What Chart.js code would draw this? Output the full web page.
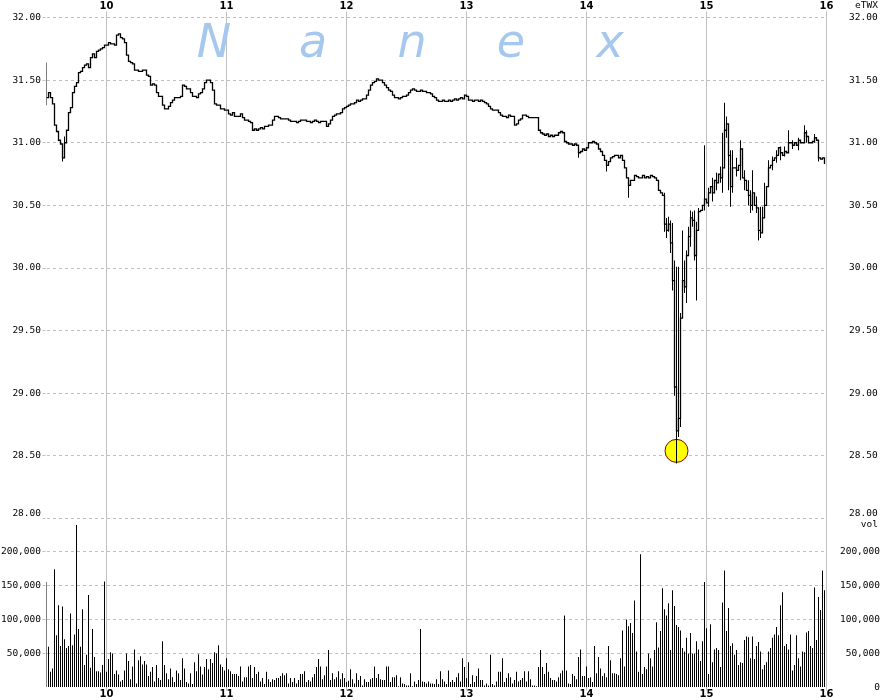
<!DOCTYPE html>
<html>
<head>
<meta charset="utf-8">
<script src="https://cdn.jsdelivr.net/npm/chart.js@4.4.1/dist/chart.umd.min.js"></script>
<style>
  html, body { margin: 0; padding: 0; background: #fff; }
  #wrap { position: relative; width: 880px; height: 700px; overflow: hidden; }
  canvas { position: absolute; left: 0; }
  #price { top: 0; }
  #vol { top: 518px; }
</style>
</head>
<body>
<div id="wrap">
  <canvas id="price" width="880" height="520"></canvas>
  <canvas id="vol" width="880" height="182"></canvas>
</div>
<script>
// x = minutes since 9:30
const hourTicks = [30, 90, 150, 210, 270, 330, 390];
const hourLabels = ['10', '11', '12', '13', '14', '15', '16'];
const priceTicks = [28, 28.5, 29, 29.5, 30, 30.5, 31, 31.5, 32];
const volTicks = [0, 50000, 100000, 150000, 200000];

// 1-minute closes, eTWX
const close = [
  31.36, 31.40, 31.36, 31.31, 31.14, 31.09, 31.02, 30.99, 30.88, 31.00,
  31.10, 31.24, 31.28, 31.40, 31.45, 31.48, 31.56, 31.57, 31.60, 31.62,
  31.63, 31.60, 31.68, 31.71, 31.68, 31.73, 31.74, 31.75, 31.76, 31.78,
  31.78, 31.80, 31.79, 31.79, 31.78, 31.86, 31.87, 31.84, 31.83, 31.80,
  31.70, 31.65, 31.64, 31.63, 31.58, 31.58, 31.57, 31.57, 31.58, 31.58,
  31.54, 31.53, 31.46, 31.47, 31.46, 31.40, 31.37, 31.37, 31.30, 31.27,
  31.27, 31.29, 31.32, 31.34, 31.36, 31.36, 31.36, 31.37, 31.46, 31.45,
  31.43, 31.43, 31.40, 31.37, 31.37, 31.36, 31.39, 31.40, 31.43, 31.48,
  31.50, 31.50, 31.48, 31.42, 31.31, 31.30, 31.30, 31.27, 31.27, 31.26,
  31.26, 31.23, 31.22, 31.24, 31.21, 31.21, 31.21, 31.23, 31.20, 31.18,
  31.18, 31.17, 31.16, 31.10, 31.11, 31.10, 31.11, 31.12, 31.11, 31.13,
  31.13, 31.14, 31.14, 31.18, 31.21, 31.21, 31.20, 31.19, 31.19, 31.19,
  31.19, 31.18, 31.17, 31.17, 31.17, 31.16, 31.17, 31.18, 31.18, 31.18,
  31.17, 31.17, 31.16, 31.17, 31.18, 31.17, 31.16, 31.17, 31.17, 31.17,
  31.13, 31.15, 31.18, 31.21, 31.22, 31.23, 31.23, 31.24, 31.27, 31.28,
  31.29, 31.30, 31.31, 31.31, 31.32, 31.34, 31.33, 31.34, 31.35, 31.35,
  31.38, 31.42, 31.46, 31.48, 31.49, 31.51, 31.50, 31.50, 31.48, 31.46,
  31.44, 31.42, 31.41, 31.38, 31.36, 31.36, 31.35, 31.36, 31.37, 31.37,
  31.38, 31.40, 31.42, 31.43, 31.42, 31.41, 31.41, 31.42, 31.41, 31.41,
  31.40, 31.40, 31.39, 31.37, 31.36, 31.34, 31.33, 31.33, 31.34, 31.33,
  31.33, 31.34, 31.33, 31.34, 31.35, 31.34, 31.35, 31.36, 31.35, 31.38,
  31.37, 31.34, 31.34, 31.33, 31.34, 31.34, 31.33, 31.34, 31.33, 31.32,
  31.31, 31.29, 31.27, 31.26, 31.26, 31.26, 31.24, 31.22, 31.21, 31.21,
  31.20, 31.22, 31.21, 31.21, 31.14, 31.15, 31.18, 31.19, 31.22, 31.22,
  31.21, 31.20, 31.20, 31.20, 31.20, 31.20, 31.10, 31.08, 31.07, 31.06,
  31.07, 31.05, 31.06, 31.05, 31.06, 31.06, 31.08, 31.09, 31.08, 31.01,
  31.00, 30.99, 30.99, 30.98, 30.99, 30.98, 30.92, 30.93, 30.95, 30.94,
  30.96, 31.00, 31.00, 31.01, 31.00, 30.99, 30.95, 30.93, 30.90, 30.86,
  30.82, 30.85, 30.88, 30.89, 30.90, 30.90, 30.88, 30.90, 30.86, 30.80,
  30.72, 30.66, 30.70, 30.70, 30.74, 30.73, 30.72, 30.72, 30.74, 30.72,
  30.73, 30.72, 30.74, 30.73, 30.72, 30.70, 30.62, 30.60, 30.58, 30.35,
  30.30, 30.35, 30.20, 29.90, 29.05, 28.70, 28.80, 29.60, 29.90, 29.85,
  30.10, 30.25, 30.40, 30.38, 30.10, 30.30, 30.45, 30.46, 30.50, 30.55,
  30.52, 30.60, 30.65, 30.60, 30.70, 30.68, 30.75, 30.72, 30.80, 31.10,
  31.15, 30.90, 30.65, 30.80, 30.80, 30.78, 30.82, 30.95, 30.72, 30.70,
  30.62, 30.58, 30.50, 30.60, 30.50, 30.48, 30.30, 30.28, 30.40, 30.50,
  30.65, 30.80, 30.82, 30.86, 30.88, 30.90, 30.96, 30.92, 30.90, 30.93,
  30.92, 31.00, 31.00, 30.98, 31.00, 30.98, 31.02, 31.00, 31.00, 31.08,
  31.05, 31.00, 31.00, 31.01, 31.04, 31.02, 30.88, 30.87, 30.88, 30.83
];

// minutes whose high-low range reaches past the close steps
const rangeMin = [0, 8, 9, 266, 280, 291, 309, 310, 311, 312, 313, 314, 315, 316, 317, 318, 319, 320, 321, 322, 323, 324, 325, 326, 329,
  331, 333, 335, 337, 338, 339, 340, 341, 342, 343, 345, 347, 349, 351, 352, 353, 355, 356, 357, 358, 359,
  361, 363, 365, 367, 369, 371, 373, 376, 379, 380, 384, 386];
const rangeLo = [31.30, 30.85, 30.90, 30.88, 30.77, 30.56, 30.29, 30.24, 30.29, 30.12, 29.82, 28.98, 28.44, 28.65, 28.73, 29.61, 29.80, 29.72, 30.12, 30.17, 30.33, 30.06, 29.74, 30.36, 30.46,
  30.49, 30.53, 30.62, 30.68, 30.60, 30.90, 31.04, 30.62, 30.49, 30.60, 30.73, 30.70, 30.62, 30.50, 30.44, 30.46, 30.44, 30.22, 30.24, 30.28, 30.46,
  30.76, 30.78, 30.84, 30.86, 30.89, 30.92, 30.95, 30.94, 31.02, 31.00, 31.00, 30.85];
const rangeHi = [31.64, 30.97, 31.05, 30.95, 30.86, 30.72, 30.60, 30.40, 30.41, 30.38, 30.36, 30.06, 30.01, 30.01, 29.64, 30.30, 30.06, 30.14, 30.33, 30.46, 30.45, 30.46, 30.37, 30.48, 30.98,
  30.64, 30.72, 30.76, 30.81, 31.08, 31.32, 31.21, 31.05, 30.94, 30.94, 30.88, 31.02, 30.78, 30.70, 30.62, 30.78, 30.57, 30.46, 30.49, 30.49, 30.68,
  30.86, 30.89, 30.94, 30.97, 30.97, 31.10, 31.02, 31.04, 31.14, 31.10, 31.07, 31.02];

// low of the day marker
const lowMin = 315;
const lowPrice = 28.54;

// 1-minute volume, thousands of shares
const volK = [
  155, 60, 23, 28, 174, 77, 121, 61, 119, 71,
  58, 61, 109, 62, 78, 239, 86, 60, 115, 33,
  48, 136, 29, 86, 45, 24, 24, 22, 33, 156,
  23, 42, 52, 50, 20, 25, 19, 9, 11, 25,
  50, 39, 12, 31, 56, 6, 40, 46, 34, 39,
  34, 17, 23, 30, 9, 33, 14, 11, 68, 33,
  21, 12, 28, 15, 8, 25, 21, 11, 43, 28,
  8, 6, 21, 5, 37, 24, 49, 31, 19, 30,
  42, 27, 42, 36, 52, 50, 62, 34, 30, 25,
  43, 27, 24, 20, 20, 20, 17, 31, 9, 15,
  15, 31, 33, 14, 30, 20, 23, 9, 14, 5,
  23, 12, 8, 12, 11, 14, 14, 17, 21, 18,
  21, 6, 14, 8, 14, 6, 11, 20,
  20, 24, 8, 11, 9, 15, 20, 30, 42, 31,
  12, 18, 31, 55, 11, 21, 12, 15, 24, 12,
  21, 14, 8, 10, 27, 12, 6, 21, 11, 17,
  3, 12, 8, 8, 12, 14, 31, 14, 20, 12,
  11, 11, 31, 31, 8, 15, 15, 18, 2, 15,
  6, 5, 3, 3, 21, 2, 9, 5, 11, 86,
  9, 8, 6, 9, 6, 6, 5, 12, 5, 24,
  12, 9, 5, 25, 8, 11, 8, 15, 21, 9,
  43, 30, 14, 37, 5, 18, 8, 17, 28, 11,
  11, 3, 6, 3, 48, 5, 3, 9, 23, 23,
  43, 8, 14, 21, 15, 6, 11, 23, 9, 11,
  14, 24, 9, 24, 12, 3, 3, 2, 30, 55,
  30, 20, 36, 23, 14, 11, 11, 9, 15,
  21, 25, 106, 25, 6, 5, 20, 17, 12, 45,
  56, 17, 17, 31, 14, 15, 8, 61, 21, 45,
  28, 17, 21, 15, 61, 40, 21, 21, 20, 18,
  43, 84, 31, 100, 90, 95, 80, 128, 53, 23,
  196, 20, 30, 27, 50, 43, 31, 55, 96, 59,
  83, 146, 115, 106, 124, 55, 143, 120, 92, 89,
  84, 58, 53, 73, 50, 80, 50, 50, 68, 56,
  39, 68, 155, 87, 20, 93, 37, 56, 58, 55,
  30, 125, 172, 83, 117, 61, 65, 48, 55, 33,
  37, 36, 70, 75, 74, 43, 75, 42, 61, 67,
  53, 27, 33, 37, 53, 58, 73, 78, 89, 77,
  121, 140, 61, 64, 56, 78, 25, 33, 77, 43,
  31, 53, 52, 81, 83, 61, 58, 147, 70, 133,
  114, 172, 143
];

const GRID = '#c0c0c0';
const MONO = '"DejaVu Sans Mono", monospace';
const tickFont = { family: MONO, size: 9.5, lineHeight: 1 };
const hourFont = { family: '"DejaVu Sans", sans-serif', size: 10, weight: 'bold', lineHeight: 1 };
const fmtVol = v => v.toLocaleString('en-US');
const setTicks = vals => s => { s.ticks = vals.map(v => ({ value: v })); };
const fixHeight = h => s => { s.height = h; };
// fixed width, and no extra room for half labels at the ends
const fixWidth = w => s => { s.width = w; s.paddingTop = 0; s.paddingBottom = 0; };
const VOL_MAX = 248529;
const hidden = 'rgba(0,0,0,0)';

function hourAxis(position, height, tickLength, padding) {
  return {
    type: 'linear', position, min: 0, max: 390, offset: false,
    afterBuildTicks: setTicks(hourTicks), afterFit: fixHeight(height),
    grid: { color: GRID, tickColor: GRID, tickLength, offset: false },
    border: { display: false },
    ticks: { font: hourFont, color: '#000', padding, maxRotation: 0, autoSkip: false,
      callback: v => hourLabels[hourTicks.indexOf(v)] }
  };
}

const priceText = {
  id: 'priceText',
  beforeDatasetsDraw(chart) {
    const c = chart.ctx;
    c.save();
    c.font = 'italic 46px "DejaVu Sans", sans-serif';
    c.fillStyle = '#a6c8ef';
    c.textAlign = 'center';
    c.textBaseline = 'alphabetic';
    [...'Nanex'].forEach((ch, k) => c.fillText(ch, 214 + 99 * k, 57));
    c.restore();
  },
  afterDraw(chart) {
    const c = chart.ctx;
    c.save();
    c.font = '9.5px ' + MONO;
    c.fillStyle = '#000';
    c.textBaseline = 'middle';
    const bottom = priceTicks[0].toFixed(2);
    c.textAlign = 'right';
    c.fillText(bottom, 41, 514);
    c.fillText('eTWX', 878, 6);
    c.textAlign = 'left';
    c.fillText(bottom, 849, 513.5);
    c.restore();
  }
};

const volText = {
  id: 'volText',
  afterDraw(chart) {
    const c = chart.ctx;
    c.save();
    c.font = '9.5px ' + MONO;
    c.fillStyle = '#000';
    c.textBaseline = 'middle';
    c.textAlign = 'right';
    c.fillText('vol', 878, 7);
    c.restore();
  }
};

new Chart(document.getElementById('price'), {
  type: 'line',
  data: {
    datasets: [
      { type: 'line', data: close.map((v, i) => ({ x: i, y: v })), borderColor: '#000', borderWidth: 1.3,
        pointRadius: 0, stepped: 'before', order: 0 },
      { type: 'bar', data: rangeMin.map((m, k) => ({ x: m, y: [rangeLo[k], rangeHi[k]] })),
        backgroundColor: '#000', borderWidth: 0, barThickness: 1, inflateAmount: 0, order: 1 },
      { type: 'scatter', data: [{ x: lowMin, y: lowPrice }], pointRadius: 11.5, backgroundColor: '#ffff00',
        borderColor: '#8b0000', borderWidth: 1, order: 2 }
    ]
  },
  options: {
    responsive: false, animation: false, devicePixelRatio: 1, events: [],
    layout: { autoPadding: false, padding: { top: 0, bottom: 1.5, left: 0, right: 0 } },
    plugins: { legend: { display: false }, tooltip: { enabled: false } },
    scales: {
      x: hourAxis('top', 17.5, 6, 0),
      y: {
        position: 'left', min: 28, max: 32,
        afterBuildTicks: setTicks(priceTicks), afterFit: fixWidth(46.5),
        grid: { color: GRID, tickColor: GRID, tickLength: 4, tickBorderDash: [3, 3] },
        border: { display: false, dash: [3, 3] },
        ticks: { font: tickFont, color: '#000', padding: 1.5, callback: v => v === 28 ? '' : v.toFixed(2) }
      },
      yR: {
        position: 'right', min: 28, max: 32,
        afterBuildTicks: setTicks(priceTicks), afterFit: fixWidth(53.5),
        grid: { display: false, drawTicks: false }, border: { display: false },
        ticks: { font: tickFont, color: '#000', padding: 22.5, callback: v => v === 28 ? '' : v.toFixed(2) }
      }
    }
  },
  plugins: [priceText]
});

new Chart(document.getElementById('vol'), {
  type: 'bar',
  data: {
    datasets: [
      { data: volK.map((v, i) => ({ x: i, y: v * 1000 })), backgroundColor: '#000', borderWidth: 0,
        barThickness: 1, inflateAmount: 0 }
    ]
  },
  options: {
    responsive: false, animation: false, devicePixelRatio: 1, events: [],
    layout: { autoPadding: false, padding: { top: 0.5, bottom: 0, left: 0, right: 0 } },
    plugins: { legend: { display: false }, tooltip: { enabled: false } },
    scales: {
      x: hourAxis('bottom', 12.5, 3, -1.5),
      y: {
        position: 'left', min: 0, max: VOL_MAX,
        afterBuildTicks: setTicks(volTicks), afterFit: fixWidth(46.5),
        grid: {
          color: ctx => ctx.tick && ctx.tick.value === 0 ? hidden : GRID,
          tickColor: ctx => ctx.tick && ctx.tick.value === 0 ? hidden : GRID,
          tickLength: 4, tickBorderDash: [3, 3]
        },
        border: { display: false, dash: [3, 3] },
        ticks: { font: tickFont, color: '#000', padding: 1.5, callback: v => v === 0 ? '' : fmtVol(v) }
      },
      yR: {
        position: 'right', min: 0, max: VOL_MAX,
        afterBuildTicks: setTicks(volTicks), afterFit: fixWidth(53.5),
        grid: { display: false, drawTicks: false }, border: { display: false },
        ticks: { font: tickFont, color: '#000', crossAlign: 'far', padding: 11.5, callback: fmtVol }
      }
    }
  },
  plugins: [volText]
});
</script>
</body>
</html>
